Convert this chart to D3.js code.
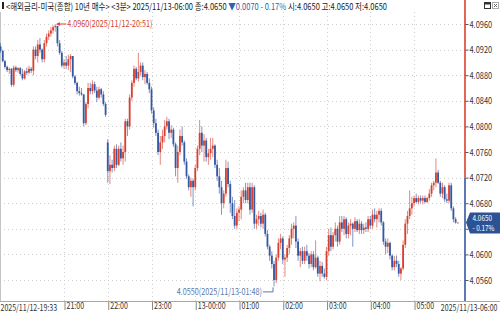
<!DOCTYPE html>
<html>
<head>
<meta charset="utf-8">
<script src="https://cdn.jsdelivr.net/npm/d3@7/dist/d3.min.js"></script>
<style>
  html, body { margin: 0; padding: 0; background: #fff; overflow: hidden; }
  svg { display: block; font-family: "Liberation Sans Narrow", "Noto Sans CJK KR", sans-serif; }
</style>
</head>
<body>
<svg id="chart" width="500" height="314"></svg>
<script>
// 3-minute bars, 2025/11/12 19:33 -> 2025/11/13 06:00
const startTime = Date.UTC(2025, 10, 12, 19, 33);
const barMinutes = 3;

const opens = [
  4.0925,4.0918,4.0902,4.0893,4.0888,4.0890,4.0865,4.0892,4.0888,4.0891,
  4.0882,4.0875,4.0886,4.0884,4.0890,4.0887,4.0920,4.0910,4.0928,4.0920,
  4.0905,4.0930,4.0940,4.0945,4.0950,4.0955,4.0957,4.0930,4.0915,4.0895,
  4.0900,4.0895,4.0905,4.0910,4.0878,4.0868,4.0855,4.0852,4.0850,4.0805,
  4.0835,4.0860,4.0855,4.0866,4.0856,4.0845,4.0858,4.0850,4.0835,4.0775,
  4.0730,4.0740,4.0735,4.0765,4.0740,4.0765,4.0750,4.0760,4.0808,4.0800,
  4.0845,4.0868,4.0890,4.0875,4.0885,4.0895,4.0877,4.0882,4.0868,4.0858,
  4.0825,4.0805,4.0790,4.0760,4.0775,4.0785,4.0800,4.0808,4.0790,4.0795,
  4.0772,4.0735,4.0760,4.0785,4.0775,4.0745,4.0722,4.0705,4.0715,4.0705,
  4.0735,4.0765,4.0790,4.0770,4.0778,4.0752,4.0758,4.0765,4.0770,4.0740,
  4.0722,4.0705,4.0680,4.0695,4.0735,4.0710,4.0680,4.0660,4.0645,4.0665,
  4.0670,4.0690,4.0700,4.0685,4.0705,4.0670,4.0705,4.0648,4.0655,4.0660,
  4.0648,4.0662,4.0632,4.0612,4.0598,4.0585,4.0560,4.0595,4.0618,4.0625,
  4.0592,4.0595,4.0610,4.0625,4.0640,4.0645,4.0620,4.0598,4.0605,4.0590,
  4.0605,4.0598,4.0585,4.0600,4.0580,4.0595,4.0570,4.0582,4.0570,4.0565,
  4.0605,4.0630,4.0612,4.0630,4.0640,4.0620,4.0650,4.0640,4.0655,4.0632,
  4.0645,4.0648,4.0640,4.0652,4.0638,4.0648,4.0638,4.0642,4.0640,4.0655,
  4.0645,4.0662,4.0655,4.0662,4.0668,4.0650,4.0620,4.0612,4.0618,4.0598,
  4.0580,4.0590,4.0585,4.0570,4.0578,4.0615,4.0648,4.0660,4.0672,4.0680,
  4.0688,4.0682,4.0688,4.0684,4.0688,4.0682,4.0688,4.0695,4.0708,4.0712,
  4.0728,4.0712,4.0695,4.0705,4.0686,4.0684,4.0708,4.0672,4.0655,4.0650
];
const highs = [
  4.0930,4.0920,4.0904,4.0895,4.0892,4.0891,4.0895,4.0895,4.0893,4.0893,
  4.0890,4.0888,4.0892,4.0895,4.0893,4.0925,4.0925,4.0935,4.0938,4.0922,
  4.0935,4.0945,4.0950,4.0955,4.0958,4.0960,4.0957,4.0935,4.0918,4.0905,
  4.0910,4.0912,4.0913,4.0910,4.0880,4.0870,4.0862,4.0860,4.0850,4.0838,
  4.0868,4.0868,4.0872,4.0870,4.0862,4.0862,4.0860,4.0855,4.0838,4.0780,
  4.0755,4.0748,4.0770,4.0772,4.0770,4.0775,4.0770,4.0812,4.0812,4.0850,
  4.0872,4.0895,4.0893,4.0915,4.0900,4.0900,4.0888,4.0885,4.0875,4.0862,
  4.0830,4.0812,4.0795,4.0785,4.0795,4.0810,4.0815,4.0812,4.0802,4.0798,
  4.0775,4.0770,4.0795,4.0800,4.0778,4.0750,4.0725,4.0720,4.0718,4.0740,
  4.0770,4.0810,4.0800,4.0788,4.0782,4.0765,4.0782,4.0782,4.0772,4.0748,
  4.0735,4.0715,4.0700,4.0748,4.0745,4.0715,4.0690,4.0685,4.0672,4.0675,
  4.0700,4.0705,4.0712,4.0712,4.0712,4.0712,4.0708,4.0662,4.0668,4.0665,
  4.0670,4.0665,4.0638,4.0615,4.0605,4.0590,4.0600,4.0625,4.0632,4.0628,
  4.0600,4.0615,4.0630,4.0648,4.0650,4.0660,4.0625,4.0610,4.0612,4.0612,
  4.0615,4.0602,4.0605,4.0605,4.0622,4.0598,4.0590,4.0588,4.0578,4.0612,
  4.0640,4.0642,4.0635,4.0650,4.0645,4.0660,4.0660,4.0660,4.0658,4.0650,
  4.0655,4.0650,4.0658,4.0655,4.0655,4.0652,4.0648,4.0650,4.0660,4.0660,
  4.0670,4.0672,4.0668,4.0672,4.0672,4.0652,4.0625,4.0625,4.0620,4.0600,
  4.0598,4.0598,4.0590,4.0580,4.0622,4.0655,4.0668,4.0700,4.0690,4.0692,
  4.0695,4.0692,4.0692,4.0692,4.0692,4.0690,4.0702,4.0712,4.0715,4.0750,
  4.0732,4.0715,4.0712,4.0708,4.0695,4.0712,4.0712,4.0675,4.0658,4.0650
];
const lows = [
  4.0915,4.0900,4.0890,4.0885,4.0882,4.0862,4.0862,4.0885,4.0884,4.0880,
  4.0872,4.0873,4.0880,4.0882,4.0883,4.0880,4.0905,4.0900,4.0915,4.0900,
  4.0900,4.0925,4.0935,4.0940,4.0945,4.0948,4.0925,4.0912,4.0892,4.0890,
  4.0890,4.0888,4.0885,4.0875,4.0865,4.0850,4.0848,4.0848,4.0800,4.0802,
  4.0828,4.0850,4.0850,4.0852,4.0838,4.0842,4.0845,4.0832,4.0815,4.0712,
  4.0710,4.0728,4.0730,4.0735,4.0738,4.0745,4.0740,4.0745,4.0785,4.0795,
  4.0840,4.0862,4.0872,4.0870,4.0880,4.0872,4.0866,4.0865,4.0852,4.0820,
  4.0798,4.0785,4.0755,4.0740,4.0765,4.0775,4.0795,4.0780,4.0782,4.0768,
  4.0722,4.0712,4.0755,4.0770,4.0740,4.0718,4.0700,4.0690,4.0675,4.0700,
  4.0730,4.0755,4.0760,4.0745,4.0745,4.0740,4.0748,4.0752,4.0735,4.0715,
  4.0695,4.0662,4.0672,4.0690,4.0705,4.0665,4.0655,4.0640,4.0640,4.0652,
  4.0655,4.0680,4.0680,4.0680,4.0662,4.0665,4.0640,4.0640,4.0645,4.0642,
  4.0640,4.0628,4.0608,4.0590,4.0578,4.0550,4.0555,4.0590,4.0608,4.0585,
  4.0565,4.0588,4.0600,4.0615,4.0625,4.0610,4.0590,4.0580,4.0585,4.0585,
  4.0590,4.0578,4.0580,4.0575,4.0578,4.0565,4.0558,4.0565,4.0562,4.0560,
  4.0598,4.0605,4.0608,4.0620,4.0612,4.0615,4.0635,4.0630,4.0625,4.0625,
  4.0630,4.0612,4.0635,4.0635,4.0632,4.0632,4.0632,4.0635,4.0635,4.0640,
  4.0640,4.0650,4.0642,4.0650,4.0645,4.0615,4.0600,4.0602,4.0592,4.0575,
  4.0575,4.0580,4.0565,4.0560,4.0575,4.0610,4.0632,4.0655,4.0662,4.0675,
  4.0680,4.0678,4.0680,4.0678,4.0680,4.0680,4.0684,4.0690,4.0700,4.0705,
  4.0710,4.0690,4.0688,4.0682,4.0680,4.0680,4.0668,4.0650,4.0648,4.0650
];
const closes = [
  4.0918,4.0902,4.0893,4.0888,4.0890,4.0865,4.0892,4.0888,4.0891,4.0882,
  4.0875,4.0886,4.0884,4.0890,4.0887,4.0920,4.0910,4.0928,4.0920,4.0905,
  4.0930,4.0940,4.0945,4.0950,4.0955,4.0957,4.0930,4.0915,4.0895,4.0900,
  4.0895,4.0905,4.0910,4.0878,4.0868,4.0855,4.0852,4.0850,4.0805,4.0835,
  4.0860,4.0855,4.0866,4.0856,4.0845,4.0858,4.0850,4.0835,4.0818,4.0730,
  4.0740,4.0735,4.0765,4.0740,4.0765,4.0750,4.0760,4.0808,4.0800,4.0845,
  4.0868,4.0890,4.0875,4.0885,4.0895,4.0877,4.0882,4.0868,4.0858,4.0825,
  4.0805,4.0790,4.0760,4.0775,4.0785,4.0800,4.0808,4.0790,4.0795,4.0772,
  4.0735,4.0760,4.0785,4.0775,4.0745,4.0722,4.0705,4.0715,4.0705,4.0735,
  4.0765,4.0790,4.0770,4.0778,4.0752,4.0758,4.0765,4.0770,4.0740,4.0722,
  4.0705,4.0680,4.0695,4.0735,4.0710,4.0680,4.0660,4.0645,4.0665,4.0670,
  4.0690,4.0700,4.0685,4.0705,4.0670,4.0705,4.0648,4.0655,4.0660,4.0648,
  4.0662,4.0632,4.0612,4.0598,4.0585,4.0560,4.0595,4.0618,4.0625,4.0592,
  4.0595,4.0610,4.0625,4.0640,4.0645,4.0620,4.0598,4.0605,4.0590,4.0605,
  4.0598,4.0585,4.0600,4.0580,4.0595,4.0570,4.0582,4.0570,4.0565,4.0605,
  4.0630,4.0612,4.0630,4.0640,4.0620,4.0650,4.0640,4.0655,4.0632,4.0645,
  4.0648,4.0640,4.0652,4.0638,4.0648,4.0638,4.0642,4.0640,4.0655,4.0645,
  4.0662,4.0655,4.0662,4.0668,4.0650,4.0620,4.0612,4.0618,4.0598,4.0580,
  4.0590,4.0585,4.0570,4.0578,4.0615,4.0648,4.0660,4.0672,4.0680,4.0688,
  4.0682,4.0688,4.0684,4.0688,4.0682,4.0688,4.0695,4.0708,4.0712,4.0728,
  4.0712,4.0695,4.0705,4.0686,4.0684,4.0708,4.0672,4.0655,4.0650,4.0650
];

const yTicks = [4.0560, 4.0600, 4.0640, 4.0680, 4.0720, 4.0760, 4.0800, 4.0840, 4.0880, 4.0920, 4.0960];
const hourTicks = ['2025-11-12T21:00Z', '2025-11-12T22:00Z', '2025-11-12T23:00Z', '2025-11-13T00:00Z',
  '2025-11-13T01:00Z', '2025-11-13T02:00Z', '2025-11-13T03:00Z', '2025-11-13T04:00Z', '2025-11-13T05:00Z'];
const hourLabels = ['21:00', '22:00', '23:00', '13-00:00', '01:00', '02:00', '03:00', '04:00', '05:00'];
const firstLabel = '2025/11/12-19:33';
const lastLabel = '2025/11/13-06:00';
const prevClose = 4.0720;
const lastChange = '- 0.17%';
const headerParts = [
  { text: '<해외금리-미국(종합) 10년 매수> <3분> 2025/11/13-06:00 종:4.0650 ', color: '#222' },
  { text: '▼0.0070 - 0.17%', color: '#2f5fb0' },
  { text: ' 시:4.0650 고:4.0650 저:4.0650', color: '#222' },
];

const RED = '#d8402f';
const BLUE = '#3458a2';
const plotRight = 465;
const plotTop = 12;
const plotBottom = 301;

const svg = d3.select('#chart');
const fmt = d3.format('.4f');

const bars = closes.map((c, i) => ({
  t: new Date(startTime + i * barMinutes * 60000),
  o: opens[i], h: highs[i], l: lows[i], c,
}));

const x = d3.scaleUtc()
  .domain([bars[0].t, bars[bars.length - 1].t])
  .range([0.56, 457.8]);
const y = d3.scaleLinear().domain([4.0560, 4.0960]).range([280, 24]);

// narrow font may be missing: fall back to squeezing the text
const probe = svg.append('text').style('font-size', '9.5px').text('4.0650');
const narrowOk = probe.node().getComputedTextLength() < 26;
probe.remove();

function squeeze(sel, ratio) {
  if (narrowOk) return;
  sel.each(function () {
    const w = this.getComputedTextLength();
    d3.select(this).attr('textLength', w * ratio).attr('lengthAdjust', 'spacingAndGlyphs');
  });
}

// grid
svg.append('g')
  .selectAll('line')
  .data(yTicks)
  .join('line')
  .attr('x1', 0).attr('x2', plotRight)
  .attr('y1', (d) => Math.round(y(d)) + 0.5).attr('y2', (d) => Math.round(y(d)) + 0.5)
  .attr('stroke', '#cfcfcf').attr('stroke-dasharray', '1,3');

svg.append('g')
  .selectAll('line')
  .data(hourTicks.map((d) => new Date(d)))
  .join('line')
  .attr('x1', (d) => Math.round(x(d)) + 0.5).attr('x2', (d) => Math.round(x(d)) + 0.5)
  .attr('y1', plotTop).attr('y2', plotBottom)
  .attr('stroke', '#cfcfcf').attr('stroke-dasharray', '1,3');

svg.append('line')
  .attr('x1', 0.5).attr('x2', 0.5).attr('y1', plotTop).attr('y2', plotBottom)
  .attr('stroke', '#c4c4c4');

// candles
const gBars = svg.append('g');
const candle = gBars.selectAll('g').data(bars).join('g')
  .attr('fill', (d) => (d.c >= d.o ? RED : BLUE))
  .attr('stroke', (d) => (d.c >= d.o ? RED : BLUE));

candle.append('line')
  .attr('x1', (d) => x(d.t)).attr('x2', (d) => x(d.t))
  .attr('y1', (d) => y(d.h)).attr('y2', (d) => y(d.l))
  .attr('stroke-width', 0.9)
  .attr('stroke-opacity', 0.7);

candle.append('rect')
  .attr('stroke', 'none')
  .attr('x', (d) => x(d.t) - 0.9)
  .attr('width', 1.8)
  .attr('y', (d) => Math.min(y(d.o), y(d.c)))
  .attr('height', (d) => Math.max(1, Math.abs(y(d.o) - y(d.c))));

// right axis line, red above previous close, blue below
svg.append('line')
  .attr('x1', plotRight).attr('x2', plotRight).attr('y1', 0).attr('y2', y(prevClose))
  .attr('stroke', RED).attr('stroke-width', 1.6);
svg.append('line')
  .attr('x1', plotRight).attr('x2', plotRight).attr('y1', y(prevClose)).attr('y2', plotBottom)
  .attr('stroke', BLUE).attr('stroke-width', 1.6);

const yAxis = svg.append('g')
  .attr('transform', `translate(${plotRight + 0.5},0)`)
  .call(d3.axisRight(y).tickValues(yTicks).tickFormat(fmt).tickSize(3).tickPadding(1));
yAxis.attr('font-family', null).attr('font-size', null);
yAxis.select('.domain').remove();
yAxis.selectAll('line').attr('stroke', '#555');
yAxis.selectAll('text')
  .attr('fill', '#333')
  .style('font-size', '9.5px');
squeeze(yAxis.selectAll('text'), 0.78);

// bottom axis
const xAxis = svg.append('g')
  .attr('transform', `translate(0,${plotBottom})`)
  .call(d3.axisBottom(x)
    .tickValues(hourTicks.map((d) => new Date(d)))
    .tickFormat((d, i) => hourLabels[i])
    .tickSize(9));
xAxis.attr('font-family', null).attr('font-size', null);
xAxis.select('.domain').remove();
xAxis.selectAll('.tick line').attr('stroke', '#888').attr('transform', 'translate(0.5,0)');
xAxis.selectAll('text')
  .attr('fill', '#333')
  .attr('x', 2).attr('y', 1.5).attr('dy', '0.71em')
  .style('text-anchor', 'start')
  .style('font-size', '9.5px');
squeeze(xAxis.selectAll('text'), 0.74);

svg.append('line')
  .attr('x1', 0).attr('x2', 500).attr('y1', plotBottom + 0.5).attr('y2', plotBottom + 0.5)
  .attr('stroke', '#a8a8a8');

const edgeLabels = svg.append('g')
  .style('font-size', '9px')
  .attr('fill', '#333');
edgeLabels.append('text').attr('x', 0.5).attr('y', 310.5).text(firstLabel);
edgeLabels.append('text').attr('x', 497.5).attr('y', 310.5).attr('text-anchor', 'end').text(lastLabel);
squeeze(edgeLabels.selectAll('text'), 0.78);

// high / low annotations
const hiIdx = d3.maxIndex(highs);
const loIdx = d3.minIndex(lows);
const hiX = x(bars[hiIdx].t);
const hiY = y(highs[hiIdx]);
const ann = svg.append('g').style('font-size', '9.5px');
ann.append('line')
  .attr('x1', hiX + 1.5).attr('x2', hiX + 11).attr('y1', hiY).attr('y2', hiY)
  .attr('stroke', RED);
ann.append('path')
  .attr('d', `M${hiX + 1.5},${hiY} l3,-2 v4 z`)
  .attr('fill', RED);
const hiText = ann.append('text')
  .attr('x', hiX + 12).attr('y', hiY + 3.3)
  .attr('fill', RED)
  .text(`${fmt(highs[hiIdx])}(2025/11/12-20:51)`);
squeeze(hiText, 0.76);

const loX = x(bars[loIdx].t);
const loY = y(lows[loIdx]);
ann.append('path')
  .attr('d', `M${loX - 1},${loY + 1} V${loY + 5.5} H${loX - 11}`)
  .attr('fill', 'none').attr('stroke', '#5a78ac');
const loText = ann.append('text')
  .attr('x', loX - 12).attr('y', loY + 8.8)
  .attr('text-anchor', 'end')
  .attr('fill', '#5a78ac')
  .text(`${fmt(lows[loIdx])}(2025/11/13-01:48)`);
squeeze(loText, 0.76);

// last price tag
const lastY = y(closes[closes.length - 1]);
svg.append('path')
  .attr('d', `M466,${lastY} L470,${lastY - 10} H500 V${lastY + 11} H470 Z`)
  .attr('fill', '#2d5294');
const tag = svg.append('g')
  .attr('fill', '#fff')
  .style('font-size', '8px');
tag.append('text').attr('x', 472.5).attr('y', lastY - 1.5).text(fmt(closes[closes.length - 1]));
tag.append('text').attr('x', 472.5).attr('y', lastY + 8.5).text(lastChange);
squeeze(tag.selectAll('text'), 0.8);

// header
svg.append('rect').attr('x', 2).attr('y', 2).attr('width', 2).attr('height', 7).attr('fill', '#222');
const header = svg.append('text')
  .attr('x', 6).attr('y', 9.5)
  .style('font-size', '9.4px');
header.selectAll('tspan').data(headerParts).join('tspan')
  .attr('fill', (d) => d.color)
  .text((d) => d.text);
if (header.node().getComputedTextLength() > 384) {
  header.attr('textLength', 381).attr('lengthAdjust', 'spacingAndGlyphs');
}

// window buttons
svg.append('rect').attr('x', 484.5).attr('y', 2.5).attr('width', 6).attr('height', 6)
  .attr('fill', 'none').attr('stroke', '#333');
svg.append('rect').attr('x', 485).attr('y', 3).attr('width', 5).attr('height', 1.5).attr('fill', '#333');
svg.append('rect').attr('x', 492.5).attr('y', 2.5).attr('width', 6).attr('height', 6)
  .attr('fill', 'none').attr('stroke', '#aaa');
svg.append('path').attr('d', 'M494,4 L497,7 M497,4 L494,7').attr('stroke', '#666');
</script>
</body>
</html>
